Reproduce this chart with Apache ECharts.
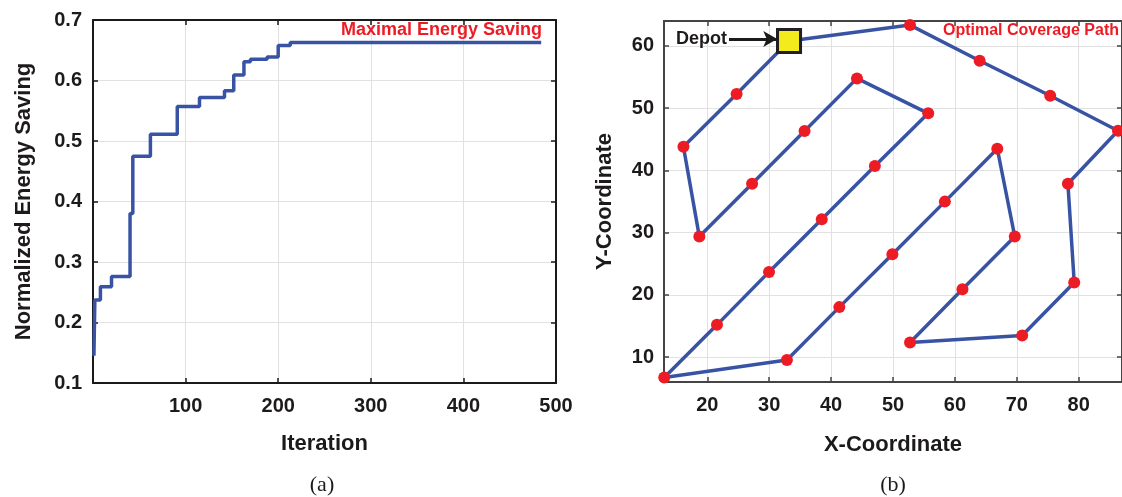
<!DOCTYPE html>
<html>
<head>
<meta charset="utf-8">
<script src="https://cdn.jsdelivr.net/npm/echarts@6/dist/echarts.min.js"></script>
<style>
html,body{margin:0;padding:0;background:#fff;}
#chart{width:1122px;height:497px;}
</style>
</head>
<body>
<div id="chart"></div>
<script>
// ---- Panel (a): step curve ----
const iterations = [1, 2, 8, 20, 40, 43, 62, 91, 115, 142, 152, 163, 170, 188, 200, 213, 484];
const energySaving = [0.145, 0.237, 0.259, 0.276, 0.380, 0.475, 0.511, 0.557, 0.572, 0.583, 0.609, 0.631, 0.635, 0.639, 0.658, 0.663, 0.663];
const iterTicks = [100, 200, 300, 400, 500];
const energyTicks = [0.1, 0.2, 0.3, 0.4, 0.5, 0.6, 0.7];

// ---- Panel (b): coverage path (visit order, starts and ends at depot) ----
const pathX = [33.2, 52.75, 64.0, 75.4, 86.35, 78.26, 79.28, 70.87, 52.75, 61.22, 69.68, 66.85, 58.38, 49.9, 41.33, 32.86, 13.04, 21.56, 29.97, 38.49, 47.07, 55.69, 44.18, 35.71, 27.23, 18.71, 16.14, 24.73, 33.2];
const pathY = [60.8, 63.34, 57.61, 51.99, 46.37, 37.86, 21.97, 13.47, 12.34, 20.91, 29.36, 43.48, 34.98, 26.53, 18.03, 9.52, 6.73, 15.18, 23.69, 32.15, 40.71, 49.17, 54.78, 46.32, 37.86, 29.36, 43.8, 52.26, 60.8];
const coordXTicks = [20, 30, 40, 50, 60, 70, 80];
const coordYTicks = [10, 20, 30, 40, 50, 60];

const FONT = '"Liberation Sans", Arial, Helvetica, sans-serif';
const TXT = '#1d1a1b';
const BLUE = '#3953a4';
const RED = '#ed1c24';
const GRIDC = '#e1e1e1';

const stepData = iterations.map((x, i) => [x, energySaving[i]]);
const pathData = pathX.map((x, i) => {
  const isDepot = (i === 0 || i === pathX.length - 1);
  if (isDepot) {
    return {value: [x, pathY[i]], symbol: 'rect', symbolSize: 23,
      itemStyle: {color: '#f3eb1c', borderColor: '#231f20', borderWidth: 3}};
  }
  return [x, pathY[i]];
});

function frameAxis(gridIndex, pos, min, max, interval, lineColor, customVals) {
  const a = {
    type: 'value', gridIndex: gridIndex, position: pos, min: min, max: max,
    axisLine: {show: true, onZero: false, lineStyle: {color: lineColor, width: 2}},
    axisTick: {show: true, inside: true, length: 5, lineStyle: {color: lineColor, width: 1.5}},
    axisLabel: {show: false},
    splitLine: {show: false}
  };
  if (interval != null) a.interval = interval;
  if (customVals) { a.axisTick.customValues = customVals; a.axisLabel.customValues = customVals; }
  return a;
}

const xA0 = frameAxis(0, 'bottom', 0, 500, 100, '#1a1a1a');
xA0.axisLabel = {show: true, showMinLabel: false, margin: 13, color: TXT, fontFamily: FONT, fontWeight: 'bold', fontSize: 20,
  formatter: v => (iterTicks.indexOf(v) >= 0 ? String(v) : '')};
xA0.splitLine = {show: true, lineStyle: {color: GRIDC, width: 1}};
xA0.name = 'Iteration'; xA0.nameLocation = 'middle'; xA0.nameGap = 50;
xA0.nameTextStyle = {color: TXT, fontFamily: FONT, fontWeight: 'bold', fontSize: 22};
const xA1 = frameAxis(0, 'top', 0, 500, 100, '#1a1a1a');

const yA0 = frameAxis(0, 'left', 0.1, 0.7, 0.1, '#1a1a1a');
yA0.axisLabel = {show: true, margin: 11, color: TXT, fontFamily: FONT, fontWeight: 'bold', fontSize: 20,
  formatter: v => v.toFixed(1)};
yA0.splitLine = {show: true, lineStyle: {color: GRIDC, width: 1}};
yA0.name = 'Normalized Energy Saving'; yA0.nameLocation = 'middle'; yA0.nameGap = 58;
yA0.nameTextStyle = {color: TXT, fontFamily: FONT, fontWeight: 'bold', fontSize: 22};
const yA1 = frameAxis(0, 'right', 0.1, 0.7, 0.1, '#1a1a1a');

const xB0 = frameAxis(1, 'bottom', 13, 87, null, '#444444', coordXTicks);
xB0.axisLabel = {show: true, customValues: coordXTicks, margin: 13, color: TXT, fontFamily: FONT, fontWeight: 'bold', fontSize: 20};
xB0.splitLine = {show: true, lineStyle: {color: GRIDC, width: 1}};
xB0.name = 'X-Coordinate'; xB0.nameLocation = 'middle'; xB0.nameGap = 52;
xB0.nameTextStyle = {color: TXT, fontFamily: FONT, fontWeight: 'bold', fontSize: 22};
const xB1 = frameAxis(1, 'top', 13, 87, null, '#444444', coordXTicks);

const yB0 = frameAxis(1, 'left', 6, 64, null, '#444444', coordYTicks);
yB0.axisLabel = {show: true, customValues: coordYTicks, margin: 10, color: TXT, fontFamily: FONT, fontWeight: 'bold', fontSize: 20};
yB0.splitLine = {show: true, lineStyle: {color: GRIDC, width: 1}};
yB0.name = 'Y-Coordinate'; yB0.nameLocation = 'middle'; yB0.nameGap = 48;
yB0.nameTextStyle = {color: TXT, fontFamily: FONT, fontWeight: 'bold', fontSize: 22};
const yB1 = frameAxis(1, 'right', 6, 64, null, '#444444', coordYTicks);

const chart = echarts.init(document.getElementById('chart'), null, {renderer: 'canvas'});
chart.setOption({
  animation: false,
  backgroundColor: '#ffffff',
  grid: [
    {left: 93, right: 566, top: 20, bottom: 114},
    {left: 664, right: -2, top: 21, bottom: 115}
  ],
  xAxis: [xA0, xA1, xB0, xB1],
  yAxis: [yA0, yA1, yB0, yB1],
  graphic: [
    {type: 'text', x: 542, y: 30, z: 100, style: {text: 'Maximal Energy Saving', fill: RED, font: 'bold 18px ' + FONT, textAlign: 'right', textVerticalAlign: 'middle'}},
    {type: 'text', x: 1119, y: 31, z: 100, style: {text: 'Optimal Coverage Path', fill: RED, font: 'bold 16px ' + FONT, textAlign: 'right', textVerticalAlign: 'middle'}},
    {type: 'text', x: 322, y: 485, style: {text: '(a)', fill: TXT, font: '22px "Liberation Serif", "Times New Roman", serif', textAlign: 'center', textVerticalAlign: 'middle'}},
    {type: 'text', x: 893, y: 485, style: {text: '(b)', fill: TXT, font: '22px "Liberation Serif", "Times New Roman", serif', textAlign: 'center', textVerticalAlign: 'middle'}}
  ],
  series: [
    {
      type: 'line', xAxisIndex: 0, yAxisIndex: 0, data: stepData, step: 'end',
      showSymbol: false, symbol: 'none',
      lineStyle: {color: BLUE, width: 3.5}
    },
    {
      type: 'line', xAxisIndex: 2, yAxisIndex: 2, data: pathData, clip: false,
      symbol: 'circle', symbolSize: 12, showAllSymbol: true,
      itemStyle: {color: RED},
      lineStyle: {color: BLUE, width: 3.5},
      z: 3,
      markLine: {
        silent: true, symbol: ['none', 'arrow'], symbolSize: [12, 14],
        lineStyle: {color: TXT, width: 3, type: 'solid', opacity: 1},
        emphasis: {disabled: true},
        label: {show: true, position: 'start', distance: 2, formatter: 'Depot', color: TXT, fontFamily: FONT, fontWeight: 'bold', fontSize: 18},
        data: [[{coord: [23.5, 61.1]}, {coord: [31.3, 61.1]}]]
      }
    }
  ]
});
</script>
</body>
</html>
